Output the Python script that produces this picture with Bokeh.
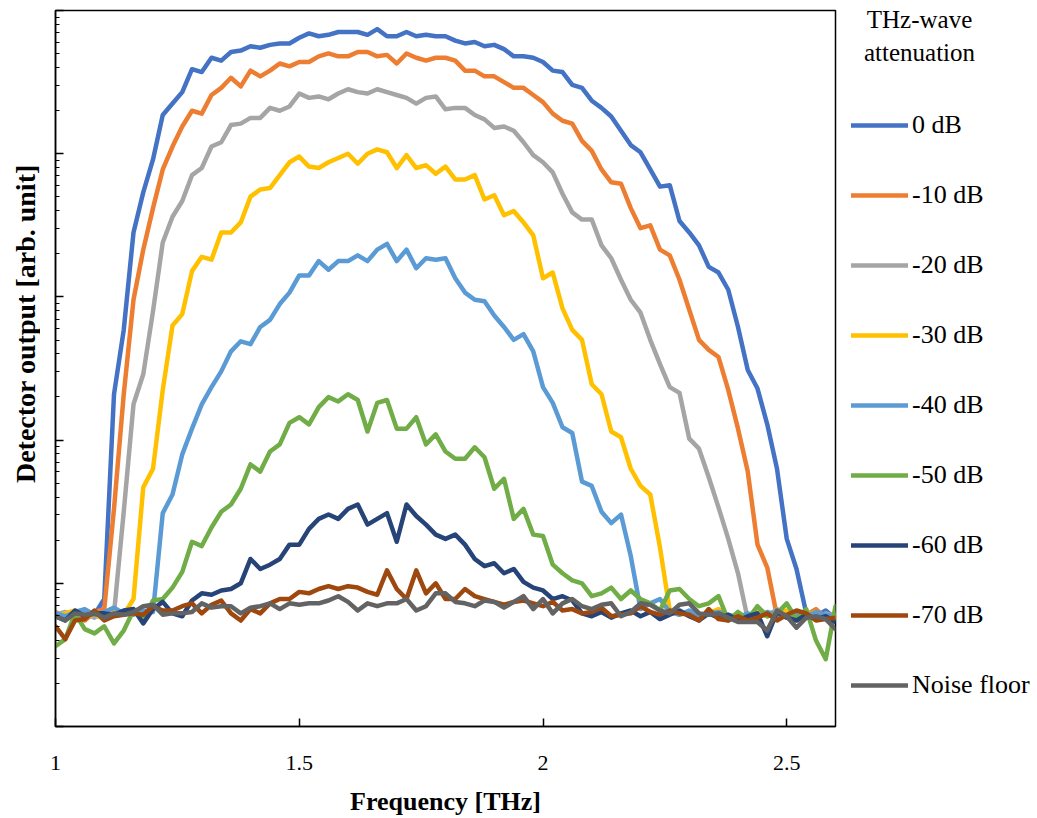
import numpy as np
from bokeh.plotting import figure
from bokeh.layouts import row
from bokeh.models import (Range1d, FixedTicker, LogTicker, Legend, LegendItem,
                          Label, CustomJSTickFormatter)
from bokeh.embed import file_html
from bokeh.resources import INLINE

# Frequency grid [THz]
freq = [1.00, 1.02, 1.04, 1.06, 1.08, 1.10, 1.12, 1.14, 1.16, 1.18,
        1.20, 1.22, 1.24, 1.26, 1.28, 1.30, 1.32, 1.34, 1.36, 1.38,
        1.40, 1.42, 1.44, 1.46, 1.48, 1.50, 1.52, 1.54, 1.56, 1.58,
        1.60, 1.62, 1.64, 1.66, 1.68, 1.70, 1.72, 1.74, 1.76, 1.78,
        1.80, 1.82, 1.84, 1.86, 1.88, 1.90, 1.92, 1.94, 1.96, 1.98,
        2.00, 2.02, 2.04, 2.06, 2.08, 2.10, 2.12, 2.14, 2.16, 2.18,
        2.20, 2.22, 2.24, 2.26, 2.28, 2.30, 2.32, 2.34, 2.36, 2.38,
        2.40, 2.42, 2.44, 2.46, 2.48, 2.50, 2.52, 2.54, 2.56, 2.58,
        2.60]

# Detector output as log10(arb. unit)
log_0db = [0.77, 0.79, 0.76, 0.80, 0.78, 0.89, 2.32, 2.77, 3.45, 3.73,
           3.96, 4.27, 4.35, 4.43, 4.59, 4.57, 4.67, 4.65, 4.71, 4.72,
           4.75, 4.74, 4.76, 4.77, 4.77, 4.81, 4.84, 4.82, 4.83, 4.85,
           4.85, 4.85, 4.83, 4.87, 4.82, 4.82, 4.85, 4.82, 4.83, 4.82,
           4.82, 4.79, 4.77, 4.78, 4.75, 4.76, 4.73, 4.68, 4.68, 4.67,
           4.64, 4.58, 4.57, 4.48, 4.46, 4.37, 4.32, 4.26, 4.16, 4.06,
           4.01, 3.89, 3.77, 3.78, 3.53, 3.45, 3.36, 3.21, 3.17, 3.05,
           2.79, 2.49, 2.36, 2.11, 1.80, 1.31, 1.10, 0.79, 0.77, 0.81,
           0.75]
log_m10db = [0.80, 0.76, 0.78, 0.74, 0.80, 0.82, 1.52, 2.32, 2.98, 3.33,
             3.62, 3.89, 4.05, 4.19, 4.30, 4.28, 4.41, 4.46, 4.53, 4.47,
             4.58, 4.54, 4.58, 4.63, 4.61, 4.64, 4.64, 4.68, 4.70, 4.68,
             4.68, 4.71, 4.71, 4.68, 4.69, 4.63, 4.70, 4.67, 4.65, 4.67,
             4.67, 4.65, 4.58, 4.58, 4.54, 4.54, 4.50, 4.46, 4.46, 4.41,
             4.36, 4.28, 4.23, 4.21, 4.09, 4.02, 3.89, 3.80, 3.79, 3.62,
             3.48, 3.50, 3.33, 3.29, 3.12, 2.91, 2.70, 2.63, 2.58, 2.35,
             2.08, 1.78, 1.27, 1.11, 0.77, 0.80, 0.74, 0.78, 0.82, 0.76,
             0.79]
log_m20db = [0.78, 0.80, 0.77, 0.79, 0.76, 0.80, 0.79, 1.50, 2.25, 2.46,
             2.90, 3.38, 3.56, 3.67, 3.85, 3.90, 4.05, 4.08, 4.20, 4.21,
             4.25, 4.25, 4.32, 4.30, 4.33, 4.42, 4.39, 4.40, 4.38, 4.42,
             4.45, 4.43, 4.42, 4.45, 4.43, 4.41, 4.39, 4.35, 4.39, 4.40,
             4.31, 4.32, 4.32, 4.27, 4.24, 4.18, 4.19, 4.16, 4.08, 3.99,
             3.94, 3.87, 3.72, 3.59, 3.54, 3.54, 3.36, 3.27, 3.12, 2.98,
             2.89, 2.70, 2.53, 2.37, 2.33, 2.01, 1.94, 1.74, 1.53, 1.31,
             1.07, 0.75, 0.80, 0.77, 0.82, 0.78, 0.76, 0.80, 0.75, 0.79,
             0.77]
log_m30db = [0.76, 0.79, 0.81, 0.77, 0.78, 0.75, 0.80, 0.78, 0.89, 1.67,
             1.80, 2.35, 2.80, 2.88, 3.18, 3.28, 3.26, 3.45, 3.45, 3.52,
             3.70, 3.75, 3.76, 3.85, 3.94, 3.98, 3.91, 3.90, 3.94, 3.97,
             4.00, 3.93, 4.00, 4.03, 4.01, 3.90, 3.99, 3.90, 3.92, 3.86,
             3.91, 3.82, 3.82, 3.85, 3.68, 3.71, 3.57, 3.60, 3.52, 3.43,
             3.13, 3.17, 2.92, 2.77, 2.70, 2.39, 2.32, 2.06, 2.02, 1.80,
             1.68, 1.62, 1.25, 0.81, 0.78, 0.80, 0.76, 0.79, 0.82, 0.77,
             0.78, 0.75, 0.80, 0.77, 0.79, 0.81, 0.76, 0.78, 0.80, 0.77,
             0.76]
log_m40db = [0.79, 0.77, 0.80, 0.82, 0.78, 0.80, 0.83, 0.79, 0.78, 0.81,
             0.80, 1.49, 1.62, 1.90, 2.08, 2.25, 2.37, 2.48, 2.62, 2.69,
             2.67, 2.79, 2.84, 2.95, 3.03, 3.15, 3.15, 3.25, 3.19, 3.25,
             3.25, 3.29, 3.25, 3.33, 3.37, 3.25, 3.33, 3.20, 3.27, 3.26,
             3.27, 3.13, 3.03, 2.98, 2.97, 2.87, 2.79, 2.70, 2.74, 2.62,
             2.37, 2.26, 2.09, 2.05, 1.71, 1.68, 1.50, 1.42, 1.48, 1.19,
             0.82, 0.86, 0.89, 0.80, 0.78, 0.81, 0.77, 0.79, 0.80, 0.78,
             0.76, 0.79, 0.77, 0.80, 0.78, 0.76, 0.79, 0.77, 0.80, 0.78,
             0.77]
log_m50db = [0.56, 0.61, 0.79, 0.68, 0.65, 0.70, 0.58, 0.67, 0.81, 0.74,
             0.88, 0.89, 0.97, 1.08, 1.29, 1.26, 1.39, 1.50, 1.55, 1.66,
             1.83, 1.78, 1.92, 1.97, 2.12, 2.16, 2.11, 2.23, 2.30, 2.27,
             2.32, 2.28, 2.06, 2.26, 2.28, 2.08, 2.08, 2.16, 1.97, 2.04,
             1.92, 1.87, 1.87, 1.95, 1.88, 1.66, 1.73, 1.45, 1.52, 1.34,
             1.33, 1.13, 1.07, 1.02, 1.00, 0.91, 0.93, 0.97, 0.89, 0.95,
             0.89, 0.86, 0.81, 0.95, 0.96, 0.89, 0.84, 0.86, 0.91, 0.74,
             0.80, 0.75, 0.84, 0.77, 0.79, 0.86, 0.75, 0.82, 0.60, 0.47,
             0.84]
log_m60db = [0.77, 0.74, 0.81, 0.77, 0.79, 0.79, 0.78, 0.81, 0.82, 0.72,
             0.82, 0.87, 0.79, 0.77, 0.88, 0.93, 0.92, 0.95, 0.96, 1.00,
             1.17, 1.10, 1.13, 1.17, 1.27, 1.27, 1.38, 1.45, 1.48, 1.45,
             1.52, 1.55, 1.41, 1.45, 1.49, 1.29, 1.55, 1.47, 1.41, 1.34,
             1.31, 1.34, 1.27, 1.17, 1.12, 1.14, 1.07, 1.10, 1.01, 0.97,
             0.95, 0.89, 0.91, 0.88, 0.79, 0.77, 0.80, 0.76, 0.79, 0.81,
             0.77, 0.80, 0.75, 0.78, 0.81, 0.77, 0.74, 0.79, 0.76, 0.78,
             0.74, 0.77, 0.79, 0.63, 0.80, 0.76, 0.74, 0.78, 0.75, 0.77,
             0.73]
log_m70db = [0.70, 0.61, 0.74, 0.75, 0.81, 0.74, 0.77, 0.78, 0.79, 0.78,
             0.84, 0.81, 0.81, 0.84, 0.86, 0.79, 0.85, 0.88, 0.79, 0.74,
             0.82, 0.79, 0.86, 0.89, 0.89, 0.94, 0.93, 0.96, 0.98, 0.96,
             0.98, 0.97, 0.94, 0.92, 1.09, 0.96, 0.89, 1.09, 0.93, 1.00,
             0.89, 0.89, 0.96, 0.91, 0.89, 0.87, 0.85, 0.87, 0.88, 0.86,
             0.84, 0.87, 0.81, 0.82, 0.79, 0.80, 0.83, 0.77, 0.78, 0.79,
             0.84, 0.80, 0.78, 0.81, 0.79, 0.78, 0.74, 0.82, 0.75, 0.74,
             0.77, 0.74, 0.76, 0.79, 0.74, 0.78, 0.81, 0.79, 0.74, 0.75,
             0.76]
log_noise = [0.77, 0.74, 0.79, 0.78, 0.79, 0.76, 0.79, 0.78, 0.80, 0.84,
             0.85, 0.78, 0.79, 0.79, 0.80, 0.86, 0.83, 0.84, 0.84, 0.79,
             0.83, 0.84, 0.86, 0.82, 0.86, 0.85, 0.86, 0.86, 0.88, 0.91,
             0.87, 0.81, 0.86, 0.84, 0.86, 0.86, 0.89, 0.81, 0.84, 0.93,
             0.93, 0.87, 0.86, 0.84, 0.88, 0.87, 0.83, 0.87, 0.91, 0.82,
             0.89, 0.79, 0.86, 0.89, 0.84, 0.82, 0.85, 0.86, 0.77, 0.80,
             0.86, 0.85, 0.81, 0.79, 0.85, 0.86, 0.79, 0.78, 0.79, 0.76,
             0.73, 0.73, 0.73, 0.67, 0.81, 0.77, 0.69, 0.76, 0.77, 0.75,
             0.68]

series_labels = ["0 dB", "-10 dB", "-20 dB", "-30 dB", "-40 dB",
                 "-50 dB", "-60 dB", "-70 dB", "Noise floor"]
series_values = [log_0db, log_m10db, log_m20db, log_m30db, log_m40db,
                 log_m50db, log_m60db, log_m70db, log_noise]
series_colors = ["#4472C4", "#ED7D31", "#A5A5A5", "#FFC000", "#5B9BD5",
                 "#70AD47", "#264478", "#9E480E", "#636363"]

x_ticks = [1.0, 1.5, 2.0, 2.5]
x_tick_labels = ["1", "1.5", "2", "2.5"]
legend_title_lines = ["THz-wave", "attenuation"]
x_title = "Frequency [THz]"
y_title = "Detector output [arb. unit]"

FONT = "Liberation Serif"
LW = 4.5


def side_panel(w):
    f = figure(width=w, height=818, x_range=Range1d(0, w),
               y_range=Range1d(728, 10), output_backend="svg",
               toolbar_location=None, x_axis_location=None,
               y_axis_location=None, min_border_left=0, min_border_right=0,
               min_border_top=10, min_border_bottom=90)
    f.outline_line_color = None
    f.grid.grid_line_color = None
    f.background_fill_color = "white"
    f.border_fill_color = "white"
    return f


# ---------------- y-axis title panel ----------------
left = side_panel(40)
left.add_layout(Label(x=25, y=324, text=y_title, angle=np.pi / 2,
                      text_align="center", text_baseline="middle",
                      text_font=FONT, text_font_style="bold",
                      text_font_size="28px", text_color="black"))

# ---------------- main plot ----------------
p = figure(width=797, height=818, y_axis_type="log",
           x_range=Range1d(1.0, 2.6), y_range=Range1d(1, 1e5),
           output_backend="svg", toolbar_location=None,
           min_border_left=15, min_border_right=2,
           min_border_top=10, min_border_bottom=90)
p.background_fill_color = "white"
p.border_fill_color = "white"
p.grid.grid_line_color = None
p.outline_line_color = "black"
p.outline_line_width = 1.5
p.outline_line_alpha = 1.0

for lab, vals, col in zip(series_labels, series_values, series_colors):
    y = [10 ** v for v in vals]
    p.line(freq, y, line_color=col, line_width=LW, line_join="round",
           line_cap="round")

# x axis
xa = p.xaxis[0]
xa.ticker = FixedTicker(ticks=x_ticks)
xa.major_label_overrides = {t: s for t, s in zip(x_ticks, x_tick_labels)}
xa.major_tick_in = 8
xa.major_tick_out = 0
xa.minor_tick_line_color = None
xa.axis_line_width = 1.5
xa.axis_line_color = "black"
xa.major_tick_line_color = "black"
xa.major_tick_line_width = 1.5
xa.major_label_text_font = FONT
xa.major_label_text_font_size = "22px"
xa.major_label_text_color = "black"
xa.major_label_standoff = 29
xa.axis_label = x_title
xa.axis_label_text_font = FONT
xa.axis_label_text_font_style = "bold"
xa.axis_label_text_font_size = "26px"
xa.axis_label_text_color = "black"
xa.axis_label_standoff = 14

# y axis (no tick labels, title drawn in the left panel)
ya = p.yaxis[0]
ya.ticker = LogTicker(num_minor_ticks=10)
ya.formatter = CustomJSTickFormatter(code="return ''")
ya.major_tick_in = 8
ya.major_tick_out = 0
ya.minor_tick_in = 4
ya.minor_tick_out = 0
ya.axis_line_width = 1.5
ya.axis_line_color = "black"
ya.major_tick_line_color = "black"
ya.minor_tick_line_color = "black"
ya.major_tick_line_width = 1.5
ya.minor_tick_line_width = 1.2
ya.major_label_text_font_size = "1px"
ya.major_label_standoff = 0

# ---------------- legend panel ----------------
lp = side_panel(200)

items = []
for lab, col in zip(series_labels, series_colors):
    r = lp.line([np.nan], [np.nan], line_color=col, line_width=LW,
                line_cap="round")
    items.append(LegendItem(label=lab, renderers=[r]))

legend = Legend(items=items, location=(14, 26), orientation="vertical",
                glyph_width=57, glyph_height=30, label_height=30,
                spacing=40, padding=0, margin=0, label_standoff=4,
                border_line_color=None, background_fill_alpha=0,
                label_text_font=FONT, label_text_font_size="26px",
                label_text_color="black")
lp.add_layout(legend)

for txt, ypos in zip(legend_title_lines, [19, 52]):
    lp.add_layout(Label(x=82, y=ypos, text=txt, text_align="center",
                        text_baseline="alphabetic", text_font=FONT,
                        text_font_size="25px", text_color="black"))

layout = row(left, p, lp)
open("out.html", "w").write(file_html(layout, INLINE))
